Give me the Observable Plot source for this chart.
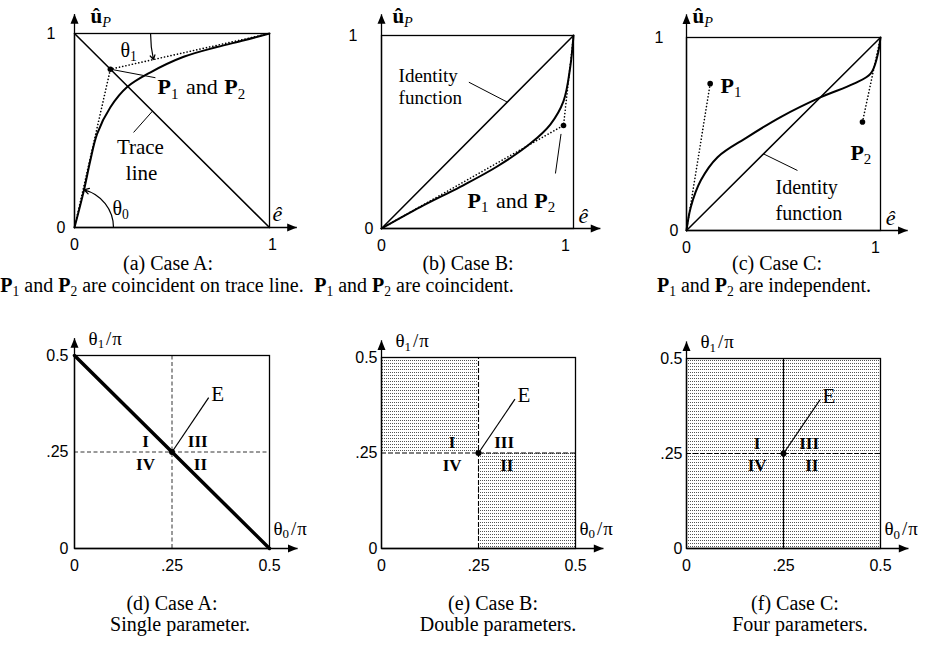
<!DOCTYPE html>
<html>
<head>
<meta charset="utf-8">
<script src="https://cdn.jsdelivr.net/npm/d3@7"></script>
<script src="https://cdn.jsdelivr.net/npm/@observablehq/plot@0.6"></script>
<style>
  body { margin: 0; background: #fff; }
  #fig { position: relative; width: 929px; height: 645px; background: #fff; overflow: hidden; }
  #fig svg { position: absolute; overflow: visible; }
  .cap { position: absolute; transform: translate(-50%, -50%); white-space: nowrap;
         font-family: "Liberation Serif", serif; font-size: 20px; line-height: 1; color: #000; }
  .cap sub { font-size: 0.68em; vertical-align: -0.3em; line-height: 0; }
</style>
</head>
<body>
<div id="fig"></div>
<script>
// ---------- data ----------
// Case A: trace line û_P(ê)
const traceE = [0, 0.048, 0.08, 0.116, 0.184, 0.27, 0.39, 0.56, 0.73, 0.87, 1];
const traceU = [0, 0.19, 0.34, 0.483, 0.62, 0.724, 0.80, 0.88, 0.93, 0.965, 1];
const pointA = [0.184, 0.816];           // P1 = P2, on the trace line
const traceLine = [[0, 1], [1, 0]];

// Case B: convex curve below the identity
const curveBE = [0, 0.204, 0.41, 0.60, 0.775, 0.88, 0.948, 0.983, 1];
const curveBU = [0, 0.112, 0.216, 0.32, 0.44, 0.54, 0.66, 0.836, 1];
const pointB = [0.948, 0.534];           // P1 = P2

// Case C: S-shaped curve crossing the identity
const curveCE = [0, 0.022, 0.074, 0.16, 0.314, 0.485, 0.69, 0.863, 0.949, 0.983, 1];
const curveCU = [0, 0.121, 0.26, 0.38, 0.484, 0.588, 0.69, 0.761, 0.813, 0.90, 1];
const pointC1 = [0.122, 0.761];
const pointC2 = [0.907, 0.562];
const identity = [[0, 0], [1, 1]];

// Parameter plane θ1/π versus θ0/π
const unitTicks = [0, 1];
const halfTicks = [0, 0.25, 0.5];
const halfTickLabels = ["0", ".25", "0.5"];
const singleParam = [[0, 0.5], [0.5, 0]];  // θ0 + θ1 = π/2
const equalPoint = [0.25, 0.25];           // E
const regionsB = [
  {x1: 0, x2: 0.25, y1: 0.25, y2: 0.5},
  {x1: 0.25, x2: 0.5, y1: 0, y2: 0.25}
];
const regionsC = [{x1: 0, x2: 0.5, y1: 0, y2: 0.5}];
const quadrantNames = ["I", "III", "IV", "II"];

// ---------- helpers ----------
const fig = document.getElementById("fig");
const measureCtx = document.createElement("canvas").getContext("2d");
function measure(p, size) {
  const fs = p.sub ? size * 0.68 : size;
  measureCtx.font = `${p.italic ? "italic" : "normal"} ${p.bold ? "bold" : "normal"} ${fs}px "Liberation Serif"`;
  return measureCtx.measureText(p.t).width + (p.gap || 0);
}
// multi-part label (bold symbols, subscripts) laid out left to right from (x, y)
function richLabel(x, y, parts, {size = 21, anchor = "start"} = {}) {
  const widths = parts.map(p => measure(p, size));
  let offset = anchor === "middle" ? -d3.sum(widths) / 2 : 0;
  const marks = [];
  parts.forEach((p, i) => {
    if (p.t.trim()) {
      marks.push(Plot.text([p.t], {
        x, y, text: d => d, textAnchor: "start", dx: offset,
        dy: p.sub ? size * 0.3 : 0,
        fontSize: p.sub ? size * 0.68 : size,
        fontWeight: p.bold ? "bold" : "normal",
        fontStyle: p.italic ? "italic" : "normal",
        fontFamily: "Liberation Serif", fill: "black"
      }));
    }
    offset += widths[i];
  });
  return marks;
}
const P12 = [{t: "P", bold: true}, {t: "1", sub: true, gap: 2}, {t: " "}, {t: "and"}, {t: " ", gap: 1}, {t: "P", bold: true}, {t: "2", sub: true}];
const uHatP = [{t: "û", bold: true}, {t: "P", sub: true, italic: true}];
const thetaOnePi = [{t: "θ"}, {t: "1", sub: true, gap: 2}, {t: "/", gap: 1}, {t: "π"}];
const thetaZeroPi = [{t: "θ"}, {t: "0", sub: true, gap: 2}, {t: "/", gap: 1}, {t: "π"}];

// filled arrowheads with the tip at the symbol origin
const headUp = {draw(c, size) { const r = Math.sqrt(size / Math.PI); c.moveTo(0, 0); c.lineTo(r, 2.4 * r); c.lineTo(-r, 2.4 * r); c.closePath(); }};
const headRight = {draw(c, size) { const r = Math.sqrt(size / Math.PI); c.moveTo(0, 0); c.lineTo(-2.4 * r, -r); c.lineTo(-2.4 * r, r); c.closePath(); }};
function axisArrows(xTip, yTip) {
  return [
    Plot.link([0], {x1: 0, y1: 0, x2: xTip, y2: 0, strokeWidth: 1.3}),
    Plot.link([0], {x1: 0, y1: 0, x2: 0, y2: yTip, strokeWidth: 1.3}),
    Plot.dot([0], {x: xTip, y: 0, symbol: headRight, r: 4, fill: "black", stroke: "none"}),
    Plot.dot([0], {x: 0, y: yTip, symbol: headUp, r: 4, fill: "black", stroke: "none"})
  ];
}
const tickStyle = {fontSize: 16, fontFamily: "Liberation Sans", tickSize: 0, label: null, fill: "black", tickFormat: d => `${d}`};
const xy = {x: d => d[0], y: d => d[1]};
const dotted = {strokeWidth: 1.6, strokeDasharray: "0.1,3.2", strokeLinecap: "round"};
const pairs = (xs, ys) => xs.map((v, i) => [v, ys[i]]);
const serif = (size) => ({fontSize: size, fontFamily: "Liberation Serif", fill: "black"});

function place(svg, left, top) {
  svg.style.left = left + "px";
  svg.style.top = top + "px";
  fig.append(svg);
  return svg;
}
function addStipple(svg, id) {
  const p = d3.select(svg).insert("defs", ":first-child").append("pattern")
    .attr("id", id).attr("width", 2).attr("height", 3).attr("patternUnits", "userSpaceOnUse");
  p.append("rect").attr("width", 1).attr("height", 1).attr("fill", "#555");
}
function unitPanel({left, width, m, tips, pad1, pad0, dx1, marks}) {
  const svg = Plot.plot({
    width, height: 260,
    marginLeft: m[0], marginRight: m[1], marginTop: m[2], marginBottom: m[3],
    x: {domain: [0, 1]}, y: {domain: [0, 1]},
    style: {fontFamily: "Liberation Sans", color: "black", background: "transparent"},
    marks: [
      Plot.frame({stroke: "black", strokeWidth: 1.3}),
      ...axisArrows(tips[0], tips[1]),
      Plot.axisY([unitTicks[1]], {...tickStyle, tickPadding: pad1}),
      Plot.axisY([unitTicks[0]], {...tickStyle, tickPadding: pad0}),
      Plot.axisX([unitTicks[0]], {...tickStyle, tickPadding: 11}),
      Plot.axisX([unitTicks[1]], {...tickStyle, tickPadding: 11, dx: dx1}),
      ...marks
    ]
  });
  return place(svg, left, 0);
}

// ---------- (a) Case A ----------
{
  const trace = pairs(traceE, traceU);
  const r0 = 0.2, a0 = Math.atan2(traceU[1], traceE[1]);
  const r1 = 0.61, a1 = Math.atan2(1 - pointA[1], 1 - pointA[0]);
  unitPanel({
    left: 0, width: 310, m: [74, 41, 33, 33], tips: [1.14, 1.10], pad1: 19, pad0: 9, dx1: 3,
    marks: [
      Plot.line(traceLine, {...xy, strokeWidth: 1.5}),
      Plot.line([[0, 0], pointA, [1, 1]], {...xy, ...dotted}),
      Plot.line(trace, {...xy, curve: "catmull-rom", strokeWidth: 2}),
      Plot.dot([pointA], {...xy, r: 2.8, fill: "black"}),
      Plot.link([pointA], {x1: d => d[0], y1: d => d[1], x2: 0.415, y2: 0.772, strokeWidth: 1}),
      Plot.link([0], {x1: 0.303, y1: 0.49, x2: 0.40, y2: 0.60, strokeWidth: 1}),
      Plot.arrow([0], {x1: r0, y1: 0, x2: r0 * Math.cos(a0), y2: r0 * Math.sin(a0),
        bend: -(a0 * 180 / Math.PI) / 2, headLength: 7, strokeWidth: 1.2}),
      Plot.arrow([0], {x1: 1 - r1, y1: 1, x2: 1 - r1 * Math.cos(a1), y2: 1 - r1 * Math.sin(a1),
        bend: -(a1 * 180 / Math.PI) / 2, headLength: 6, strokeWidth: 1.2}),
      ...richLabel(0.426, 0.722, P12, {size: 22}),
      Plot.text(["Trace"], {x: 0.338, y: 0.415, ...serif(21)}),
      Plot.text(["line"], {x: 0.344, y: 0.282, ...serif(21)}),
      ...richLabel(0.236, 0.912, [{t: "θ"}, {t: "1", sub: true}], {size: 20}),
      ...richLabel(0.195, 0.098, [{t: "θ"}, {t: "0", sub: true}], {size: 20}),
      ...richLabel(0.082, 1.088, uHatP),
      Plot.text(["ê"], {x: 1.041, y: 0.072, ...serif(22), fontStyle: "italic"})
    ]
  });
}

// ---------- (b) Case B ----------
unitPanel({
  left: 310, width: 310, m: [71, 47, 35, 32], tips: [1.14, 1.11], pad1: 24, pad0: 8, dx1: -8,
  marks: [
    Plot.line(identity, {...xy, strokeWidth: 1.5}),
    Plot.line([[0, 0], pointB, [1, 1]], {...xy, ...dotted}),
    Plot.line(pairs(curveBE, curveBU), {...xy, curve: "catmull-rom", strokeWidth: 2}),
    Plot.dot([pointB], {...xy, r: 2.8, fill: "black"}),
    Plot.link([0], {x1: 0.906, y1: 0.285, x2: 0.935, y2: 0.49, strokeWidth: 1}),
    Plot.link([0], {x1: 0.455, y1: 0.758, x2: 0.655, y2: 0.655, strokeWidth: 1}),
    Plot.text(["Identity"], {x: 0.089, y: 0.792, textAnchor: "start", ...serif(19)}),
    Plot.text(["function"], {x: 0.089, y: 0.675, textAnchor: "start", ...serif(19)}),
    ...richLabel(0.448, 0.145, P12, {size: 22}),
    ...richLabel(0.057, 1.098, uHatP),
    Plot.text(["ê"], {x: 1.052, y: 0.067, ...serif(22), fontStyle: "italic"})
  ]
});

// ---------- (c) Case C ----------
unitPanel({
  left: 620, width: 309, m: [66, 49, 37, 30], tips: [1.14, 1.12], pad1: 23, pad0: 8, dx1: -5,
  marks: [
    Plot.line(identity, {...xy, strokeWidth: 1.5}),
    Plot.line([[0, 0], pointC1], {...xy, ...dotted}),
    Plot.line([pointC2, [1, 1]], {...xy, ...dotted}),
    Plot.line(pairs(curveCE, curveCU), {...xy, curve: "catmull-rom", strokeWidth: 2}),
    Plot.dot([pointC1, pointC2], {...xy, r: 2.8, fill: "black"}),
    Plot.link([0], {x1: 0.572, y1: 0.311, x2: 0.397, y2: 0.397, strokeWidth: 1}),
    ...richLabel(0.175, 0.751, [{t: "P", bold: true}, {t: "1", sub: true}], {size: 22}),
    ...richLabel(0.845, 0.404, [{t: "P", bold: true}, {t: "2", sub: true}], {size: 22}),
    Plot.text(["Identity"], {x: 0.459, y: 0.223, textAnchor: "start", ...serif(20)}),
    Plot.text(["function"], {x: 0.459, y: 0.088, textAnchor: "start", ...serif(20)}),
    ...richLabel(0.031, 1.109, uHatP),
    Plot.text(["ê"], {x: 1.052, y: 0.067, ...serif(22), fontStyle: "italic"})
  ]
});

// ---------- (d)–(f) parameter planes ----------
function thetaPanel({left, width, m, padY, regions, vStyle, hStyle, id, extra = []}) {
  const quadPos = [[0.182, 0.277], [0.316, 0.277], [0.182, 0.218], [0.323, 0.218]];
  const svg = Plot.plot({
    width, height: 280,
    marginLeft: m[0], marginRight: m[1], marginTop: m[2], marginBottom: m[3],
    x: {domain: [0, 0.5]}, y: {domain: [0, 0.5]},
    style: {fontFamily: "Liberation Sans", color: "black", background: "transparent"},
    marks: [
      regions ? Plot.rect(regions, {x1: "x1", x2: "x2", y1: "y1", y2: "y2", fill: `url(#${id})`}) : null,
      Plot.ruleX([0.25], {y1: 0, y2: 0.5, stroke: "black", ...vStyle}),
      Plot.ruleY([0.25], {x1: 0, x2: 0.5, stroke: "black", ...hStyle}),
      Plot.frame({stroke: "black", strokeWidth: 1.3}),
      ...axisArrows(0.572, 0.545),
      Plot.axisY(halfTicks, {...tickStyle, tickPadding: padY, tickFormat: d => halfTickLabels[halfTicks.indexOf(d)]}),
      Plot.axisX(halfTicks, {...tickStyle, tickPadding: 11, tickFormat: d => halfTickLabels[halfTicks.indexOf(d)]}),
      ...extra,
      Plot.dot([equalPoint], {...xy, r: 3, fill: "black"}),
      Plot.link([equalPoint], {x1: d => d[0], y1: d => d[1], x2: 0.344, y2: 0.391, strokeWidth: 1.2}),
      Plot.text(["E"], {x: 0.367, y: 0.40, ...serif(21)}),
      Plot.text(quadrantNames, {x: (d, i) => quadPos[i][0], y: (d, i) => quadPos[i][1], text: d => d,
        ...serif(17), fontWeight: "bold"}),
      ...richLabel(0.036, 0.544, thetaOnePi, {size: 19}),
      ...richLabel(0.51, 0.052, thetaZeroPi, {size: 19})
    ]
  });
  if (regions) addStipple(svg, id);
  return place(svg, left, 300);
}
const thinDash = {strokeWidth: 0.8, strokeDasharray: "4,2.5"};
const darkDash = {strokeWidth: 1.1, strokeDasharray: "5,2"};
thetaPanel({left: 0, width: 310, m: [74, 41, 55, 32], padY: 6, vStyle: thinDash, hStyle: thinDash, id: "s-d",
  extra: [Plot.line(singleParam, {...xy, strokeWidth: 3.5})]});
thetaPanel({left: 310, width: 310, m: [71, 45, 57, 32], padY: 4, regions: regionsB, id: "s-e",
  vStyle: darkDash, hStyle: darkDash});
thetaPanel({left: 620, width: 309, m: [66, 49, 58, 32], padY: 4, regions: regionsC, id: "s-f",
  vStyle: {strokeWidth: 1.2}, hStyle: darkDash});

// ---------- captions ----------
const P1and2 = "<b>P</b><sub>1</sub> and <b>P</b><sub>2</sub>";
const captions = [
  {x: 168, y: 263, html: "(a) Case A:"},
  {x: 152, y: 285, html: `${P1and2} are coincident on trace line.`},
  {x: 468, y: 263, html: "(b) Case B:"},
  {x: 414, y: 285, html: `${P1and2} are coincident.`},
  {x: 777, y: 263, html: "(c) Case C:"},
  {x: 764, y: 285, html: `${P1and2} are independent.`},
  {x: 172, y: 603, html: "(d) Case A:"},
  {x: 180, y: 624, html: "Single parameter."},
  {x: 493, y: 603, html: "(e) Case B:"},
  {x: 498, y: 624, html: "Double parameters."},
  {x: 795, y: 603, html: "(f) Case C:"},
  {x: 800, y: 624, html: "Four parameters."}
];
for (const c of captions) {
  const div = document.createElement("div");
  div.className = "cap";
  div.style.left = c.x + "px";
  div.style.top = c.y + "px";
  div.innerHTML = c.html;
  fig.append(div);
}
</script>
</body>
</html>
